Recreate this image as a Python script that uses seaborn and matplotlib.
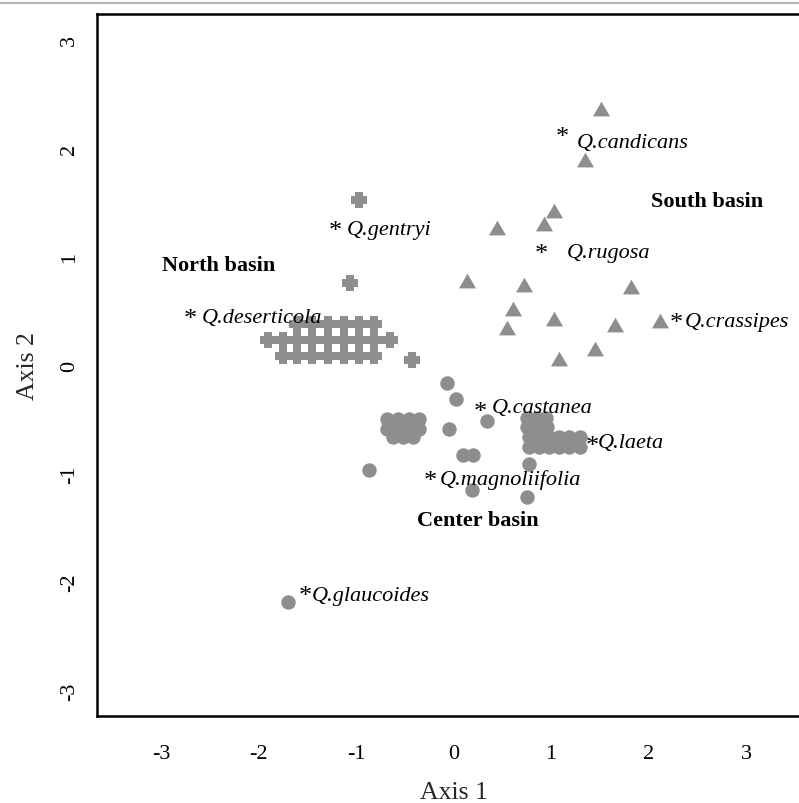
import matplotlib
matplotlib.use("Agg")
import matplotlib.pyplot as plt
import seaborn as sns
import pandas as pd
from matplotlib.lines import Line2D

# ---------------- data ----------------
# North basin (filled plus markers)
north_x = [-1.605, -1.446, -1.287, -1.123, -0.969, -0.815,
           -1.90, -1.75, -1.605, -1.446, -1.287, -1.123, -0.969, -0.815, -0.651,
           -1.75, -1.605, -1.446, -1.287, -1.123, -0.969, -0.815,
           -0.43, -1.06, -0.97]
north_y = [0.378, 0.378, 0.378, 0.378, 0.378, 0.378,
           0.230, 0.230, 0.230, 0.230, 0.230, 0.230, 0.230, 0.230, 0.230,
           0.083, 0.083, 0.083, 0.083, 0.083, 0.083, 0.083,
           0.05, 0.76, 1.52]

# Center basin (circles)
center_x = [-0.682, -0.569, -0.456, -0.354,
            -0.682, -0.569, -0.456, -0.354,
            -0.621, -0.518, -0.415,
            0.754, 0.856, 0.949,
            0.754, 0.856, 0.959,
            0.774, 0.877, 0.979, 1.082, 1.185, 1.297,
            0.774, 0.877, 0.979, 1.082, 1.185, 1.297,
            -0.07, 0.03, 0.34, -0.05, -0.87, 0.10, 0.20, 0.19, 0.77, 0.75, -1.70]
center_y = [-0.502, -0.502, -0.502, -0.502,
            -0.594, -0.594, -0.594, -0.594,
            -0.668, -0.668, -0.668,
            -0.493, -0.493, -0.493,
            -0.576, -0.576, -0.576,
            -0.665, -0.665, -0.665, -0.665, -0.665, -0.665,
            -0.755, -0.755, -0.755, -0.755, -0.755, -0.755,
            -0.17, -0.31, -0.52, -0.59, -0.97, -0.83, -0.83, -1.15, -0.91, -1.22, -2.18]

# South basin (triangles)
south_x = [1.51, 1.35, 1.03, 0.93, 0.45, 0.135, 0.72, 1.82,
           0.61, 0.55, 1.03, 1.66, 2.12, 1.45, 1.085]
south_y = [2.34, 1.87, 1.40, 1.28, 1.24, 0.76, 0.72, 0.70,
           0.50, 0.32, 0.41, 0.35, 0.39, 0.13, 0.04]

# species (asterisk location and label anchor)
species = ["Q.candicans", "Q.gentryi", "Q.rugosa", "Q.deserticola", "Q.crassipes",
           "Q.castanea", "Q.laeta", "Q.magnoliifolia", "Q.glaucoides"]
star_x = [1.113, -1.215, 0.905, -2.703, 2.282, 0.272, 1.424, -0.241, -1.523]
star_y = [2.152, 1.286, 1.074, 0.475, 0.438, -0.382, -0.693, -1.016, -2.076]
name_x = [1.267, -1.095, 1.161, -2.579, 2.374, 0.392, 1.482, -0.138, -1.454]
name_y = [2.055, 1.250, 1.040, 0.440, 0.405, -0.390, -0.712, -1.052, -2.125]

basins = ["North basin", "South basin", "Center basin"]
basin_x = [-2.41, 2.605, 0.246]
basin_y = [0.926, 1.51, -1.424]

xticks = [-3, -2, -1, 0, 1, 2, 3]
yticks = [-3, -2, -1, 0, 1, 2, 3]

# ---------------- plot ----------------
sns.set_style("white")
plt.rcParams["font.family"] = ["Liberation Serif", "DejaVu Serif"]

fig = plt.figure(figsize=(7.99, 8.04), dpi=100)
ax = fig.add_axes([97 / 799, 87 / 804, 713 / 799, 702 / 804])

grey = "#8e8e8e"
df_n = pd.DataFrame({"x": north_x, "y": north_y})
df_c = pd.DataFrame({"x": center_x, "y": center_y})
df_s = pd.DataFrame({"x": south_x, "y": south_y})

h = 0.45
thick_plus = [(-h, -1), (h, -1), (h, -h), (1, -h), (1, h), (h, h),
              (h, 1), (-h, 1), (-h, h), (-1, h), (-1, -h), (-h, -h),
              (-h, -1)]

sns.scatterplot(data=df_n, x="x", y="y", marker=thick_plus, s=145, color=grey,
                linewidth=0, ax=ax, zorder=3)
sns.scatterplot(data=df_c, x="x", y="y", marker="o", s=108, color=grey,
                linewidth=0, ax=ax, zorder=3)
sns.scatterplot(data=df_s, x="x", y="y", marker=(3, 0, 0), s=200, color=grey,
                linewidth=0, ax=ax, zorder=3)

for name, sx, sy, nx, ny in zip(species, star_x, star_y, name_x, name_y):
    ax.annotate("*", (sx, sy), xytext=(0, -4), textcoords="offset points",
                ha="center", va="center", fontsize=19, color="black", zorder=4)
    ax.text(nx, ny, name, ha="left", va="center", fontsize=16,
            style="italic", color="black", zorder=4)

for b, bx, by in zip(basins, basin_x, basin_y):
    ax.text(bx, by, b, ha="center", va="center", fontsize=16,
            fontweight="bold", color="black", zorder=4)

ax.set_xlim(-3.656, 3.656)
ax.set_ylim(-3.235, 3.235)
ax.set_xticks(xticks)
ax.set_yticks(yticks)
ax.set_xticklabels([str(t) for t in xticks])
ax.set_yticklabels([str(t) for t in yticks], rotation=90, va="center")
ax.tick_params(axis="both", direction="in", length=11, width=1.8,
               labelsize=16, colors="black")
ax.tick_params(axis="x", pad=20)
ax.tick_params(axis="y", pad=13)

ax.set_xlabel("Axis 1", fontsize=18.5, labelpad=13)
ax.set_ylabel("Axis 2", fontsize=18.5, labelpad=15)

for sp in ax.spines.values():
    sp.set_linewidth(1.8)
    sp.set_color("black")
    sp.set_visible(True)

fig.add_artist(Line2D([0, 1], [1 - 3.5 / 804, 1 - 3.5 / 804],
                      transform=fig.transFigure, color="#b5b5b5", lw=1.5))

fig.savefig("out.png", dpi=100, facecolor="white")
